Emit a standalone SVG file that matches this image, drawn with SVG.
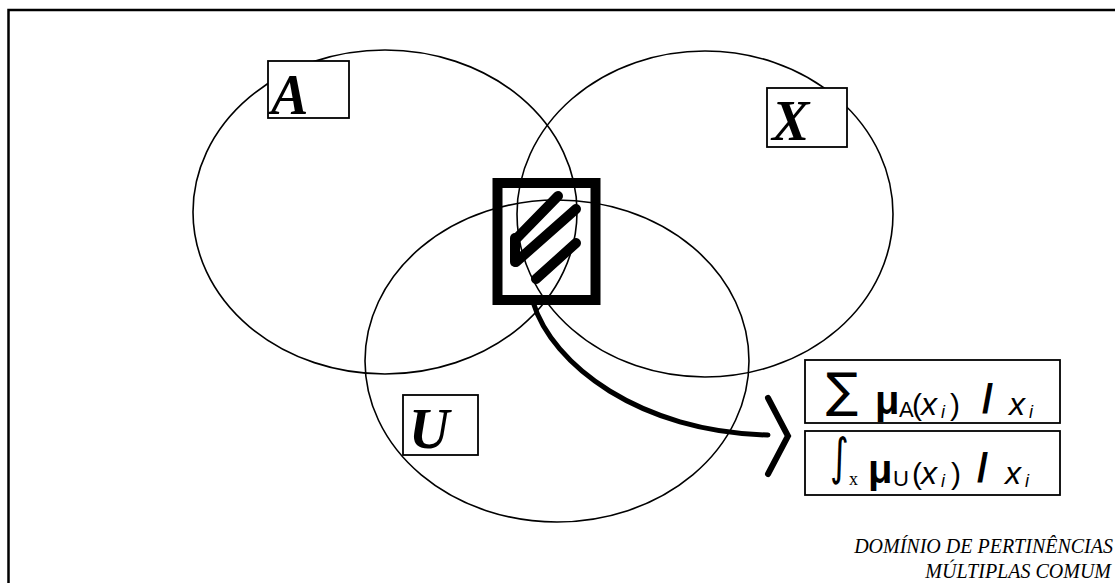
<svg xmlns="http://www.w3.org/2000/svg" width="1115" height="583" viewBox="0 0 1115 583">
<style>
.ell{fill:none;stroke:#000;stroke-width:1.6}
.lbl{fill:#fff;stroke:#000;stroke-width:1.8}
.big{font-family:"Liberation Serif",serif;font-weight:bold;font-style:italic;font-size:56px;fill:#000}
.f{font-family:"Liberation Sans",sans-serif;fill:#000}
.dv{font-family:"DejaVu Sans",sans-serif;fill:#000}
.it{font-style:italic}
.cap{font-family:"Liberation Serif",serif;font-style:italic;font-size:20px;fill:#000;text-anchor:end}
.hatch{stroke:#000;stroke-width:10;stroke-linecap:round;fill:none}
</style>
<rect x="8.5" y="10" width="1130" height="600" fill="#fff" stroke="#000" stroke-width="2.5"/>
<g id="setA"><ellipse class="ell" cx="385" cy="212" rx="192" ry="162"/></g>
<g id="setX"><ellipse class="ell" cx="705" cy="214" rx="188" ry="163"/></g>
<g id="setU"><ellipse class="ell" cx="557" cy="361" rx="192" ry="161"/></g>
<g id="labelA"><rect class="lbl" x="268" y="61" width="81" height="57"/><text class="big" x="271" y="114">A</text></g>
<g id="labelX"><rect class="lbl" x="767" y="88" width="80" height="59"/><text class="big" x="772" y="140">X</text></g>
<g id="labelU"><rect class="lbl" x="403" y="395" width="75" height="60"/><text class="big" x="409" y="448">U</text></g>
<g id="intersection">
<rect x="497.5" y="183" width="98" height="117" fill="none" stroke="#000" stroke-width="10"/>
<line class="hatch" x1="517" y1="238" x2="558" y2="196"/>
<line class="hatch" x1="516" y1="262" x2="576" y2="209"/>
<line class="hatch" x1="536" y1="279" x2="576" y2="243"/>
<line class="hatch" x1="515" y1="238" x2="515" y2="262"/>
</g>
<g id="connectors">
<path d="M533 302 C552 365,640 432,768 435" fill="none" stroke="#000" stroke-width="5" stroke-linecap="round"/>
<polyline points="768,398 788,436 768,474" fill="none" stroke="#000" stroke-width="6" stroke-linecap="round"/>
</g>
<g id="formulaSum">
<rect class="lbl" x="805" y="360" width="255" height="63"/>
<text class="dv" x="826" y="407" font-size="48">∑</text>
<text class="f" x="875" y="414" font-size="40" font-weight="bold">μ</text>
<text class="f" x="899" y="417" font-size="22">A</text>
<text class="f" x="912" y="415" font-size="30">(</text>
<text class="f it" x="921" y="415" font-size="32">x</text>
<text class="f it" x="941" y="418" font-size="18">i</text>
<text class="f" x="950" y="415" font-size="30">)</text>
<text class="f" x="982" y="413" font-size="40" font-weight="bold">/</text>
<text class="f it" x="1009" y="415" font-size="32">x</text>
<text class="f it" x="1029" y="418" font-size="18">i</text>
</g>
<g id="formulaInt">
<rect class="lbl" x="805" y="431" width="255" height="64"/>
<text class="dv" font-size="36" transform="translate(830 474) scale(1 1.4)">∫</text>
<text x="849" y="485" font-size="18" style="font-family:'Liberation Serif',serif">x</text>
<text class="f" x="868" y="483" font-size="40" font-weight="bold">μ</text>
<text class="f" x="893" y="486" font-size="22">U</text>
<text class="f" x="912" y="484" font-size="30">(</text>
<text class="f it" x="921" y="484" font-size="32">x</text>
<text class="f it" x="941" y="487" font-size="18">i</text>
<text class="f" x="951" y="484" font-size="30">)</text>
<text class="f" x="977" y="482" font-size="40" font-weight="bold">/</text>
<text class="f it" x="1005" y="484" font-size="32">x</text>
<text class="f it" x="1025" y="487" font-size="18">i</text>
</g>
<g id="caption">
<text class="cap" x="1113" y="553">DOMÍNIO DE PERTINÊNCIAS</text>
<text class="cap" x="1111" y="578">MÚLTIPLAS COMUM</text>
</g>
</svg>
